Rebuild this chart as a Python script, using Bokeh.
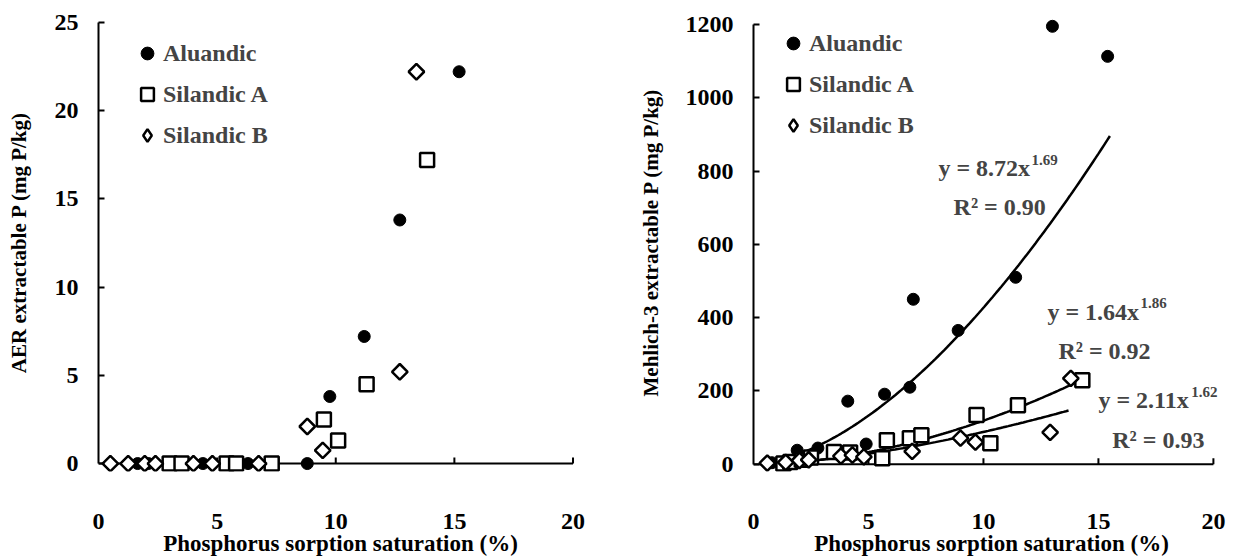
import numpy as np
from bokeh.plotting import figure
from bokeh.models import Range1d, Legend, LegendItem, Label
from bokeh.layouts import row
from bokeh.embed import file_html
from bokeh.resources import INLINE

FONT = "Liberation Serif"

# ---------------- data ----------------
series_names = ["Aluandic", "Silandic A", "Silandic B"]

# Left panel: AER extractable P (mg P/kg)
aer_alu_x = [1.65, 2.1, 2.9, 4.4, 6.3, 8.8, 9.75, 11.2, 12.7, 15.2]
aer_alu_y = [0, 0, 0, 0, 0, 0, 3.8, 7.2, 13.8, 22.2]
aer_sa_x = [3.0, 3.5, 5.4, 5.8, 7.3, 9.5, 10.1, 11.3, 13.85]
aer_sa_y = [0, 0, 0, 0, 0, 2.5, 1.3, 4.5, 17.2]
aer_sb_x = [0.5, 1.25, 1.95, 2.4, 4.0, 4.8, 6.75, 8.8, 9.45, 12.7, 13.4]
aer_sb_y = [0, 0, 0, 0, 0, 0, 0, 2.1, 0.75, 5.2, 22.2]

# Right panel: Mehlich-3 extractable P (mg P/kg)
m3_alu_x = [0.8, 1.4, 1.9, 2.3, 2.8, 4.1, 4.9, 5.7, 6.8, 6.95, 8.9, 11.4, 13.0, 15.4]
m3_alu_y = [4, 10, 38, 20, 44, 172, 55, 191, 210, 450, 365, 510, 1195, 1113]
m3_sa_x = [1.3, 1.6, 2.1, 2.5, 3.5, 4.2, 5.6, 5.8, 6.8, 7.3, 9.7, 10.3, 11.5, 14.3]
m3_sa_y = [2, 6, 12, 18, 33, 32, 16, 65, 71, 79, 134, 57, 161, 229]
m3_sb_x = [0.6, 1.4, 2.0, 2.4, 3.8, 4.3, 4.8, 6.9, 9.0, 9.65, 12.9, 13.8]
m3_sb_y = [3, 5, 10, 12, 22, 25, 20, 35, 71, 60, 87, 234]

# Power-law fits y = a * x^b (right panel)
fit_a = [8.72, 1.64, 2.11]
fit_b = [1.69, 1.86, 1.62]
fit_r2 = [0.90, 0.92, 0.93]
fit_xmin = [0.7, 0.7, 0.7]
fit_xmax = [15.5, 13.9, 13.7]

x_ticks = [0, 5, 10, 15, 20]
aer_ticks = [0, 5, 10, 15, 20, 25]
m3_ticks = [0, 200, 400, 600, 800, 1000, 1200]

x_title = "Phosphorus sorption saturation (%)"
aer_title = "AER extractable P (mg P/kg)"
m3_title = "Mehlich-3 extractable P (mg P/kg)"

FRAME_H = 458
TOP = 13
HEIGHT = 558
TICK_PX = 6


def make_fig(frame_w, left, right, xr, yr, yticks, ytitle, ystand):
    p = figure(frame_width=frame_w, frame_height=FRAME_H, x_range=xr, y_range=yr,
               output_backend="svg", toolbar_location=None,
               min_border_left=left, min_border_right=right,
               min_border_top=TOP, min_border_bottom=HEIGHT - TOP - FRAME_H)
    p.outline_line_color = None
    p.grid.visible = False
    p.background_fill_color = "white"
    p.border_fill_color = "white"

    # bottom axis: only tick labels + title (the rule sits at y = 0, drawn below)
    xa = p.xaxis[0]
    xa.ticker = x_ticks
    xa.axis_line_color = None
    xa.major_tick_line_color = None
    xa.minor_tick_line_color = None
    xa.major_label_standoff = 36
    xa.major_label_text_font = FONT
    xa.major_label_text_font_size = "24px"
    xa.major_label_text_font_style = "bold"
    xa.major_label_text_color = "black"
    xa.axis_label = x_title
    xa.axis_label_standoff = -1
    xa.axis_label_text_font = FONT
    xa.axis_label_text_font_size = "23px"
    xa.axis_label_text_font_style = "bold"
    xa.axis_label_text_color = "black"

    ya = p.yaxis[0]
    ya.ticker = yticks
    ya.bounds = (yticks[0], yticks[-1])
    ya.axis_line_width = 2
    ya.major_tick_line_width = 2
    ya.major_tick_in = TICK_PX
    ya.major_tick_out = 0
    ya.minor_tick_line_color = None
    ya.major_label_standoff = 20
    ya.major_label_text_font = FONT
    ya.major_label_text_font_size = "24px"
    ya.major_label_text_font_style = "bold"
    ya.major_label_text_color = "black"
    ya.axis_label = ytitle
    ya.axis_label_standoff = ystand
    ya.axis_label_text_font = FONT
    ya.axis_label_text_font_size = "21px"
    ya.axis_label_text_font_style = "bold"
    ya.axis_label_text_color = "black"

    # x-axis rule at y = 0 with inward ticks
    px_per_unit = FRAME_H / (yr.end - yr.start)
    tick_len = TICK_PX / px_per_unit
    p.segment(x0=[x_ticks[0]], y0=[0], x1=[x_ticks[-1]], y1=[0],
              line_width=2, line_color="black")
    p.segment(x0=x_ticks[1:], y0=[0] * (len(x_ticks) - 1), x1=x_ticks[1:],
              y1=[tick_len] * (len(x_ticks) - 1), line_width=2, line_color="black")
    return p


def add_points(p, xs_list, ys_list):
    r1 = p.scatter(xs_list[0], ys_list[0], marker="circle", size=12,
                   fill_color="black", line_color="black", line_width=1)
    r2 = p.scatter(xs_list[1], ys_list[1], marker="square", size=14,
                   fill_color="white", line_color="black", line_width=2.5)
    p.scatter(xs_list[2], ys_list[2], marker="square", size=11, angle=np.pi / 4,
              fill_color="white", line_color="black", line_width=2.5)
    # legend proxy for the diamond symbol (not drawn in the plot area)
    r3_leg = p.scatter([np.nan], [np.nan], marker="diamond", size=16,
                       fill_color="white", line_color="black", line_width=2.5)
    return [r1, r2, r3_leg]


def add_legend(p, rends, x, y, standoff):
    items = [LegendItem(label=n, renderers=[r]) for n, r in zip(series_names, rends)]
    leg = Legend(items=items, location=(x, y), glyph_width=32, glyph_height=32,
                 label_height=32, spacing=9, padding=0, margin=0,
                 border_line_color=None, background_fill_alpha=0,
                 label_text_font=FONT, label_text_font_size="24px",
                 label_text_font_style="bold", label_standoff=standoff)
    p.add_layout(leg)


# ---------------- left panel ----------------
p1 = make_fig(484, 98, 33, Range1d(0, 20.4), Range1d(-0.45, 25.5), aer_ticks, aer_title, 21)
r_left = add_points(p1, [aer_alu_x, aer_sa_x, aer_sb_x], [aer_alu_y, aer_sa_y, aer_sb_y])
add_legend(p1, r_left, 33, 320, 0)

# ---------------- right panel ----------------
p2 = make_fig(476, 138, 7, Range1d(0, 20.7), Range1d(-20, 1230), m3_ticks, m3_title, 20)
for a, b, x0, x1 in zip(fit_a, fit_b, fit_xmin, fit_xmax):
    xs = np.linspace(x0, x1, 120)
    p2.line(xs, a * xs ** b, line_width=2.5, line_color="black")
r_right = add_points(p2, [m3_alu_x, m3_sa_x, m3_sb_x], [m3_alu_y, m3_sa_y, m3_sb_y])
add_legend(p2, r_right, 24, 330, 0)

eq_pos = [(8.04, 807), (12.78, 414), (15.0, 174)]
sup_pos = [(12.09, 831), (16.83, 441), (19.04, 198)]
r2_pos = [(8.70, 703), (13.26, 310), (15.6, 65)]
for a, b, r2, (ex, ey), (sx, sy), (rx, ry) in zip(fit_a, fit_b, fit_r2, eq_pos, sup_pos, r2_pos):
    p2.add_layout(Label(x=ex, y=ey, text=f"y = {a:.2f}x", text_font=FONT,
                        text_font_size="24px", text_font_style="bold",
                        text_baseline="middle", text_align="left"))
    p2.add_layout(Label(x=sx, y=sy, text=f"{b:.2f}", text_font=FONT,
                        text_font_size="15px", text_font_style="bold",
                        text_baseline="middle", text_align="left"))
    p2.add_layout(Label(x=rx, y=ry, text=f"R\u00b2 = {r2:.2f}", text_font=FONT,
                        text_font_size="24px", text_font_style="bold",
                        text_baseline="middle", text_align="left"))

layout = row(p1, p2)
open("out.html", "w").write(file_html(layout, INLINE))
